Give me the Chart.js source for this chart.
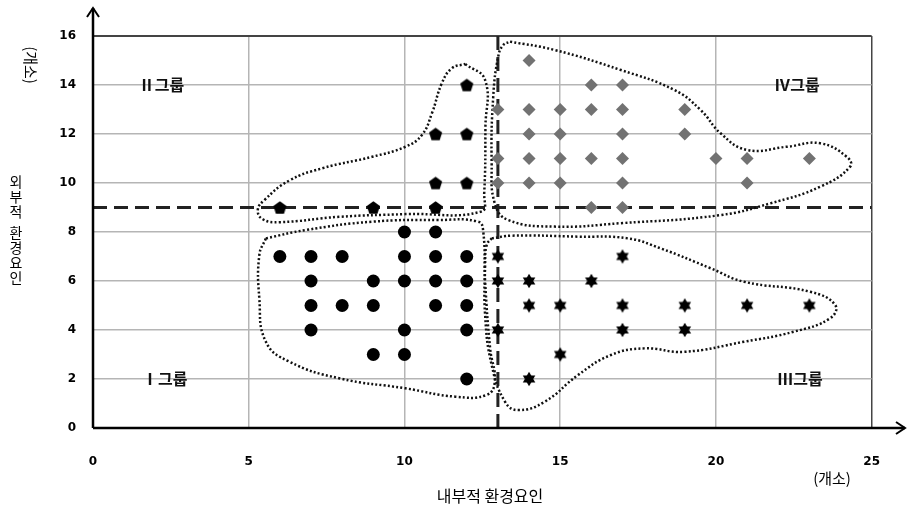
<!DOCTYPE html>
<html>
<head>
<meta charset="utf-8">
<script src="https://cdn.jsdelivr.net/npm/chart.js@4.4.0/dist/chart.umd.min.js"></script>
<style>
  html, body { margin: 0; padding: 0; background: #fff; }
</style>
</head>
<body>
<canvas id="chart" width="907" height="508"></canvas>
<script>
// axis ranges / ticks
const xRange = [0, 25]
const yRange = [0, 16]
const xStep = 5
const yStep = 2

// points per group [내부적, 외부적]
const groupI = [[10,8],[11,8],[6,7],[7,7],[8,7],[10,7],[11,7],[12,7],[7,6],[9,6],[10,6],[11,6],[12,6],
  [7,5],[8,5],[9,5],[11,5],[12,5],[7,4],[10,4],[12,4],[9,3],[10,3],[12,2]]
const groupII = [[12,14],[11,12],[12,12],[11,10],[12,10],[6,9],[9,9],[11,9]]
const groupIII = [[13,7],[17,7],[13,6],[14,6],[16,6],[14,5],[15,5],[17,5],[19,5],[21,5],[23,5],
  [13,4],[17,4],[19,4],[15,3],[14,2]]
const groupIV = [[14,15],[16,14],[17,14],[13,13],[14,13],[15,13],[16,13],[17,13],[19,13],
  [14,12],[15,12],[17,12],[19,12],[13,11],[14,11],[15,11],[16,11],[17,11],[20,11],[21,11],[23,11],
  [13,10],[14,10],[15,10],[17,10],[21,10],[16,9],[17,9]]

// dividing lines
const splitY = 9
const splitX = 13

// dotted outlines round each group (data units)
const outlineI = [[5.55,7.74],[6.83,8.08],[8.96,8.42],[11.09,8.49],[12.37,8.42],[12.53,8.01],[12.59,5.97],
  [12.75,3.25],[12.9,1.89],[12.64,1.35],[11.63,1.28],[10.03,1.62],[7.9,2.03],[6.3,2.71],[5.55,3.52],
  [5.34,5.29],[5.34,7.06]]
const outlineII = [[11.95,14.86],[12.59,14.2],[12.6,12.3],[12.56,9.58],[12.46,8.83],[10.03,8.73],[7.9,8.62],
  [5.98,8.4],[5.45,8.52],[5.29,8.9],[5.5,9.3],[6.3,10.1],[7.36,10.6],[8.96,11.07],[10.03,11.48],
  [10.56,11.96],[10.88,12.84],[11.2,14.07],[11.52,14.68]]
const outlineIII = [[12.8,7.74],[13.44,7.85],[15.57,7.81],[17.17,7.74],[18.23,7.33],[19.83,6.52],[20.9,5.97],
  [23.03,5.56],[23.83,5.02],[23.67,4.48],[22.5,3.93],[20.9,3.52],[18.98,3.11],[17.7,3.25],[16.63,2.98],
  [15.57,2.16],[14.5,1.07],[13.65,0.73],[13.23,1.07],[12.8,2.57],[12.59,4.61],[12.59,6.65],[12.64,7.47]]
const outlineIV = [[13.39,15.77],[14.82,15.43],[16.95,14.61],[18.66,13.8],[19.51,12.98],[20.15,12.03],
  [21.0,11.35],[22.28,11.48],[23.35,11.62],[24.2,11.07],[24.31,10.67],[23.35,9.85],[21.75,9.17],
  [20.15,8.69],[16.95,8.36],[14.82,8.22],[13.33,8.49],[12.9,9.17],[12.8,10.8],[12.85,13.52],
  [13.01,15.16],[13.17,15.63]]

// group names and where they sit
const groupLabels = [
  { text: 'Ⅱ그룹', x: 2.2, y: 14 },
  { text: 'Ⅳ그룹', x: 22.6, y: 14 },
  { text: 'Ⅰ그룹', x: 2.3, y: 2 },
  { text: 'Ⅲ그룹', x: 22.7, y: 2 }
]
const xTitle = '내부적 환경요인'
const yTitle = '외부적 환경요인'
const unitText = '(개소)'

const toXY = arr => arr.map(p => ({ x: p[0], y: p[1] }))
const closeLoop = arr => toXY(arr.concat([arr[0]]))

// custom marker shapes
const makeShape = (size, draw) => {
  const c = document.createElement('canvas')
  c.width = size; c.height = size
  const g = c.getContext('2d')
  g.fillStyle = '#000'
  g.translate(size / 2, size / 2)
  draw(g)
  return c
}
const pentagon = makeShape(15, g => {
  g.beginPath()
  for (let i = 0; i < 5; i++) {
    const a = -Math.PI / 2 + i * 2 * Math.PI / 5
    g.lineTo(6.9 * Math.cos(a), 6.9 * Math.sin(a) + 0.6)
  }
  g.closePath(); g.fill()
})
const hexStar = makeShape(16, g => {
  for (const off of [-Math.PI / 2, Math.PI / 2]) {
    g.beginPath()
    for (let i = 0; i < 3; i++) {
      const a = off + i * 2 * Math.PI / 3
      g.lineTo(7.2 * Math.cos(a), 7.2 * Math.sin(a))
    }
    g.closePath(); g.fill()
  }
})

const outlineStyle = {
  showLine: true, borderColor: '#111', borderWidth: 2.5, borderDash: [2, 2.2],
  pointRadius: 0, tension: 0.45, fill: false, clip: false, order: 1
}
const splitStyle = {
  showLine: true, borderColor: '#222', borderWidth: 3, borderDash: [14, 7],
  pointRadius: 0, tension: 0, fill: false, clip: false, order: 2
}

const KR = '"Noto Sans CJK KR"'

const decorPlugin = {
  id: 'decor',
  afterDraw(chart) {
    const { ctx, chartArea: a, scales: { x, y } } = chart
    ctx.save()
    // axes with arrows
    ctx.strokeStyle = '#000'
    ctx.lineWidth = 2.5
    ctx.beginPath()
    ctx.moveTo(a.left, a.bottom); ctx.lineTo(a.left, 8)
    ctx.moveTo(a.left, a.bottom); ctx.lineTo(905, a.bottom)
    ctx.stroke()
    ctx.lineWidth = 2
    ctx.beginPath()
    ctx.moveTo(a.left - 6, 17); ctx.lineTo(a.left, 8); ctx.lineTo(a.left + 6, 17)
    ctx.moveTo(896, a.bottom - 6); ctx.lineTo(905, a.bottom); ctx.lineTo(896, a.bottom + 6)
    ctx.stroke()

    // group labels
    ctx.fillStyle = '#111'
    ctx.font = 'bold 16px ' + KR
    ctx.textAlign = 'center'
    ctx.textBaseline = 'middle'
    groupLabels.forEach(l => {
      ctx.fillText(l.text, x.getPixelForValue(l.x), y.getPixelForValue(l.y))
    })

    // x title and unit
    ctx.fillStyle = '#000'
    ctx.font = '16px ' + KR
    ctx.fillText(xTitle, 490, 496)
    ctx.font = '15px ' + KR
    ctx.fillText(unitText, 832, 478)

    // y title stacked vertically
    ctx.font = '14px ' + KR
    let ty = 182
    for (const ch of yTitle) {
      if (ch === ' ') { ty += 6; continue }
      ctx.fillText(ch, 16, ty)
      ty += 15
    }
    // y unit, rotated
    ctx.translate(31, 65)
    ctx.rotate(Math.PI / 2)
    ctx.font = '15px ' + KR
    ctx.fillText(unitText, 0, 0)
    ctx.restore()
  }
}

const gridColor = (ctx, edge) => ctx.tick && ctx.tick.value === edge ? '#444' : '#b5b5b5'

new Chart(document.getElementById('chart'), {
  type: 'scatter',
  data: {
    datasets: [
      { label: 'I', data: toXY(groupI), pointStyle: 'circle', pointRadius: 6.5,
        backgroundColor: '#000', borderWidth: 0, order: 0 },
      { label: 'II', data: toXY(groupII), pointStyle: pentagon, order: 0 },
      { label: 'III', data: toXY(groupIII), pointStyle: hexStar, order: 0 },
      { label: 'IV', data: toXY(groupIV), pointStyle: 'rectRot', pointRadius: 6.5,
        backgroundColor: '#727272', borderWidth: 0, order: 0 },
      Object.assign({ data: closeLoop(outlineI) }, outlineStyle),
      Object.assign({ data: closeLoop(outlineII) }, outlineStyle),
      Object.assign({ data: closeLoop(outlineIII) }, outlineStyle),
      Object.assign({ data: closeLoop(outlineIV) }, outlineStyle),
      Object.assign({ data: [{ x: xRange[0], y: splitY }, { x: xRange[1], y: splitY }] }, splitStyle),
      Object.assign({ data: [{ x: splitX, y: yRange[0] }, { x: splitX, y: yRange[1] }] }, splitStyle)
    ]
  },
  options: {
    responsive: false,
    animation: false,
    events: [],
    layout: { padding: { top: 36, right: 32, left: 0, bottom: 0 } },
    plugins: { legend: { display: false }, tooltip: { enabled: false } },
    scales: {
      x: {
        type: 'linear', min: xRange[0], max: xRange[1],
        ticks: { stepSize: xStep, padding: 27, color: '#000',
          font: { family: 'DejaVu Sans', weight: 'bold', size: 12 } },
        grid: { drawTicks: false, lineWidth: 1.5, color: c => gridColor(c, xRange[1]) },
        border: { display: false },
        afterFit: s => { s.height = 80 }
      },
      y: {
        type: 'linear', min: yRange[0], max: yRange[1],
        ticks: { stepSize: yStep, padding: 17, color: '#000',
          font: { family: 'DejaVu Sans', weight: 'bold', size: 12 } },
        grid: { drawTicks: false, lineWidth: c => c.tick && c.tick.value === yRange[1] ? 2 : 1.5,
          color: c => gridColor(c, yRange[1]) },
        border: { display: false },
        afterFit: s => { s.width = 93 }
      }
    }
  },
  plugins: [decorPlugin]
})
</script>
</body>
</html>
